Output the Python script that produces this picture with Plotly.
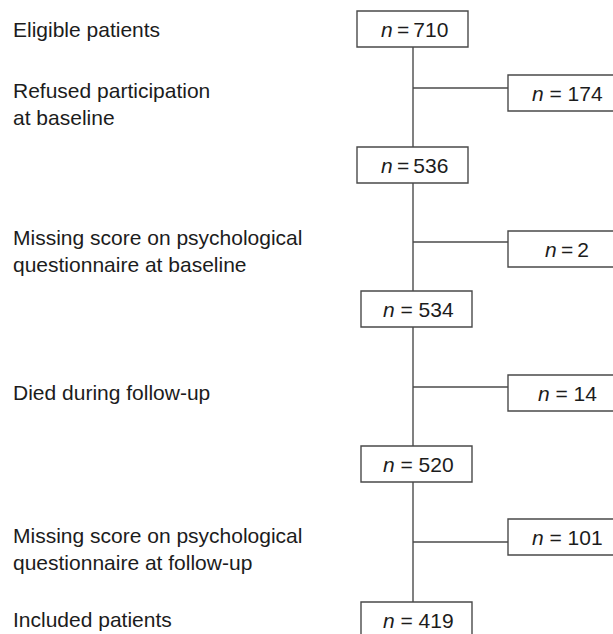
import plotly.graph_objects as go

# ---- data ----
stage_counts = [710, 536, 534, 520, 419]
excluded_counts = [174, 2, 14, 101]
stage_labels = ["Eligible patients", "", "", "", "Included patients"]
exclusion_reasons = [
    "Refused participation<br>at baseline",
    "Missing score on psychological<br>questionnaire at baseline",
    "Died during follow-up",
    "Missing score on psychological<br>questionnaire at follow-up",
]

# ---- layout constants (pixel space) ----
W, H = 613, 634
FONT = "Liberation Sans, Arial, Helvetica, sans-serif"
TXT = "#1c1c1c"
LINE = "#4a4a4a"
LW = 1.4
FS = 21

main_top = [11, 147, 291, 446, 602]
main_x0 = [357, 357, 361, 361, 361]
main_w = 111
box_h = 36
side_top = [75, 231, 375, 519]
side_x0 = 508
conn_y = [88, 242, 387, 542]
spine_x = 413
tight_main = [True, True, False, False, False]
tight_side = [False, True, False, False]
label_x = 11
stage_label_y = [29, None, None, None, 619]
reason_y = [104, 251, 392, 549]


def ntext(v, tight):
    sep = "\u2009=\u2009" if tight else " = "
    return f"<i>n</i>{sep}{v}"


fig = go.Figure()
shapes = []
ann = []

# vertical spine segments between main boxes
for i in range(len(stage_counts) - 1):
    shapes.append(dict(type="line", x0=spine_x, x1=spine_x,
                       y0=main_top[i] + box_h, y1=main_top[i + 1],
                       line=dict(color=LINE, width=LW)))

# main boxes
for i, v in enumerate(stage_counts):
    x0 = main_x0[i]
    y0 = main_top[i]
    shapes.append(dict(type="rect", x0=x0, x1=x0 + main_w, y0=y0, y1=y0 + box_h,
                       line=dict(color=LINE, width=LW), fillcolor="white"))
    ann.append(dict(x=x0 + main_w / 2 + 2, y=y0 + box_h / 2, text=ntext(v, tight_main[i]),
                    showarrow=False, xanchor="center", yanchor="middle",
                    font=dict(size=FS, color=TXT, family=FONT)))
    if stage_labels[i]:
        ann.append(dict(x=label_x, y=stage_label_y[i], text=stage_labels[i],
                        showarrow=False, xanchor="left", yanchor="middle",
                        font=dict(size=FS, color=TXT, family=FONT)))

# side (excluded) boxes, open at the right edge
for i, v in enumerate(excluded_counts):
    y0 = side_top[i]
    shapes.append(dict(type="line", x0=spine_x, x1=side_x0, y0=conn_y[i], y1=conn_y[i],
                       line=dict(color=LINE, width=LW)))
    shapes.append(dict(type="path",
                       path=f"M {W + 2} {y0} L {side_x0} {y0} L {side_x0} {y0 + box_h} L {W + 2} {y0 + box_h}",
                       line=dict(color=LINE, width=LW)))
    ann.append(dict(x=567, y=y0 + box_h / 2, text=ntext(v, tight_side[i]),
                    showarrow=False, xanchor="center", yanchor="middle",
                    font=dict(size=FS, color=TXT, family=FONT)))
    ann.append(dict(x=label_x, y=reason_y[i], text=exclusion_reasons[i],
                    showarrow=False, xanchor="left", yanchor="middle", align="left",
                    font=dict(size=FS, color=TXT, family=FONT)))

fig.update_layout(
    width=W, height=H,
    margin=dict(l=0, r=0, t=0, b=0),
    paper_bgcolor="white", plot_bgcolor="white",
    xaxis=dict(range=[0, W], visible=False, fixedrange=True),
    yaxis=dict(range=[H, 0], visible=False, fixedrange=True),
    shapes=shapes, annotations=ann, showlegend=False,
)

fig.write_html(
    "out.html",
    config={"displayModeBar": False},
    post_script="document.body.style.margin='0';document.body.style.overflow='hidden';",
)
